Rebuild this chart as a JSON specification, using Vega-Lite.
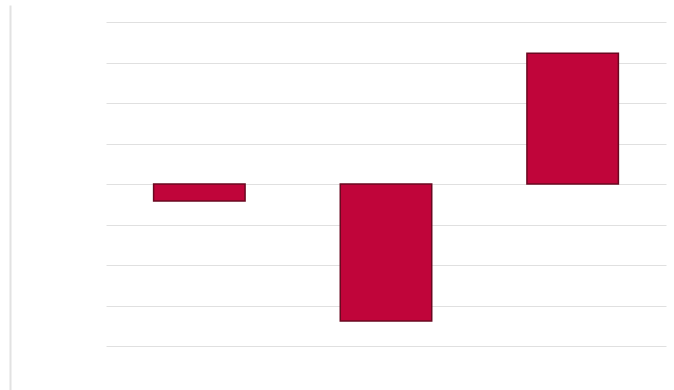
{
  "$schema": "https://vega.github.io/schema/vega-lite/v6.json",
  "autosize": {"type": "none"},
  "padding": {"left": 106, "top": 5, "right": 8, "bottom": 0},
  "width": 560,
  "height": 385,
  "background": "white",
  "config": {"view": {"stroke": null}},
  "data": {"values": [
    {"cat": "A", "value": -0.42},
    {"cat": "B", "value": -3.38},
    {"cat": "C", "value": 3.23}
  ]},
  "mark": {"type": "bar", "color": "#c0053a", "stroke": "#6a0820", "strokeWidth": 1.5},
  "encoding": {
    "x": {
      "field": "cat", "type": "nominal", "sort": null,
      "scale": {"paddingInner": 0.51, "paddingOuter": 0.255},
      "axis": {"labels": false, "ticks": false, "domain": false, "title": null}
    },
    "y": {
      "field": "value", "type": "quantitative",
      "scale": {"domain": [-5.086, 4.42], "nice": false, "zero": false},
      "axis": {
        "values": [-4, -3, -2, -1, 0, 1, 2, 3, 4],
        "labels": false, "ticks": false, "title": null,
        "domain": true, "domainColor": "#e2e2e2", "domainWidth": 2, "offset": 96,
        "grid": true, "gridColor": "#e0e0e0", "gridWidth": 1
      }
    }
  }
}
